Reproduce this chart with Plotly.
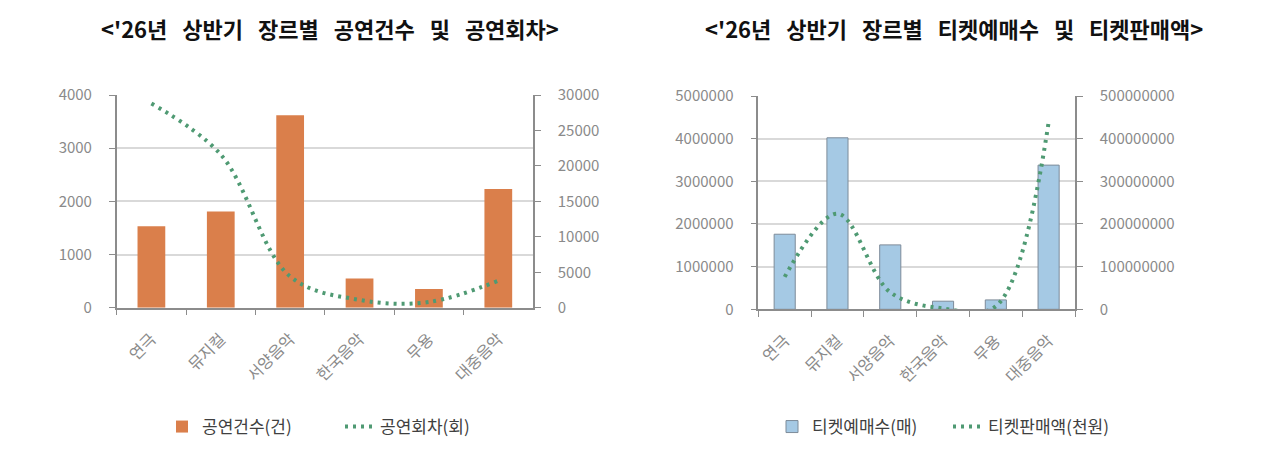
import plotly.graph_objects as go

genres = ["연극", "뮤지컬", "서양음악", "한국음악", "무용", "대중음악"]
perf_count = [1530, 1810, 3620, 550, 350, 2230]          # 공연건수(건)
perf_sessions = [28800, 21600, 4400, 1100, 800, 3800]    # 공연회차(회)
ticket_count = [1760000, 4020000, 1510000, 190000, 220000, 3380000]      # 티켓예매수(매)
ticket_sales = [76000000, 224000000, 40000000, 2000000, 7000000, 438000000]  # 티켓판매액(천원)

title_left = "<'26년   상반기   장르별   공연건수   및   공연회차>"
title_right = "<'26년   상반기   장르별   티켓예매수   및   티켓판매액>"

FONT = "Noto Sans CJK KR"
GRAY = "#8a8a8a"
AXIS = "#8c8c8c"
GRID = "#d9d9d9"
GREEN = "#4f9a73"
ORANGE = "#da7f4b"
BLUE = "#a5c9e4"
DOTS = "3px,5px"

fig = go.Figure()

fig.add_trace(go.Bar(x=genres, y=perf_count, name="공연건수(건)", marker_color=ORANGE,
                     marker_line_width=0, width=0.4, xaxis="x", yaxis="y", legend="legend"))
fig.add_trace(go.Scatter(x=genres, y=perf_sessions, name="공연회차(회)", mode="lines",
                         line=dict(color=GREEN, width=4, dash=DOTS, shape="spline", smoothing=1.0),
                         xaxis="x", yaxis="y2", legend="legend"))
fig.add_trace(go.Bar(x=genres, y=ticket_count, name="티켓예매수(매)", marker_color=BLUE,
                     marker_line=dict(color="#7d8b99", width=1), width=0.4,
                     xaxis="x2", yaxis="y3", legend="legend2"))
fig.add_trace(go.Scatter(x=genres, y=ticket_sales, name="티켓판매액(천원)", mode="lines",
                         line=dict(color=GREEN, width=4, dash=DOTS, shape="spline", smoothing=1.0),
                         xaxis="x2", yaxis="y4", legend="legend2"))

W, H = 1280, 463
def px_x(v): return v / W
def px_y(v): return 1 - v / H

tickfont = dict(family=FONT, size=15, color=GRAY)
catfont = dict(family=FONT, size=16, color=GRAY)

xcommon = dict(type="category", showline=True, linecolor=AXIS, linewidth=1.5,
               ticks="outside", tickson="boundaries", ticklen=6, tickcolor=AXIS,
               tickangle=-45, tickfont=catfont, showgrid=False, ticklabelstandoff=14,
               automargin=False)
ycommon = dict(showline=True, linecolor=AXIS, linewidth=1.5, ticks="outside", ticklen=6,
               tickcolor=AXIS, tickfont=tickfont, tickformat="d", zeroline=False,
               ticklabelstandoff=14, automargin=False)

legfont = dict(family=FONT, size=17, color="#404040")

fig.update_layout(
    width=W, height=H, margin=dict(l=0, r=0, t=0, b=0, autoexpand=False),
    paper_bgcolor="white", plot_bgcolor="white",
    font=dict(family=FONT, color="#404040"),
    xaxis=dict(domain=[px_x(116.7), px_x(533)], anchor="y", **xcommon),
    yaxis=dict(domain=[px_y(307.7), px_y(95)], range=[0, 4000], dtick=1000,
               showgrid=True, gridcolor=GRID, gridwidth=1.5, anchor="x", **ycommon),
    yaxis2=dict(domain=[px_y(307.7), px_y(95)], range=[0, 30000], dtick=5000, overlaying="y",
                side="right", showgrid=False, anchor="x", **ycommon),
    xaxis2=dict(domain=[px_x(758.3), px_x(1075)], anchor="y3", **xcommon),
    yaxis3=dict(domain=[px_y(309.3), px_y(96)], range=[0, 5000000], dtick=1000000,
                showgrid=True, gridcolor=GRID, gridwidth=1.5, anchor="x2", **ycommon),
    yaxis4=dict(domain=[px_y(309.3), px_y(96)], range=[0, 500000000], dtick=100000000,
                overlaying="y3", side="right", showgrid=False, anchor="x2", **ycommon),
    legend=dict(orientation="h", x=px_x(162), y=px_y(427), xanchor="left", yanchor="middle",
                font=legfont, itemwidth=30,
                entrywidth=133, entrywidthmode="pixels", bgcolor="rgba(0,0,0,0)"),
    legend2=dict(orientation="h", x=px_x(772), y=px_y(427), xanchor="left", yanchor="middle",
                 font=legfont, itemwidth=30,
                 entrywidth=131, entrywidthmode="pixels", bgcolor="rgba(0,0,0,0)"),
    annotations=[
        dict(text=f"<b>{title_left}</b>", x=px_x(330), y=px_y(28), xref="paper", yref="paper",
             showarrow=False, xanchor="center", yanchor="middle",
             font=dict(family=FONT, size=22, color="#111111")),
        dict(text=f"<b>{title_right}</b>", x=px_x(954), y=px_y(28), xref="paper", yref="paper",
             showarrow=False, xanchor="center", yanchor="middle",
             font=dict(family=FONT, size=22, color="#111111")),
    ],
)

fig.write_html("out.html")
